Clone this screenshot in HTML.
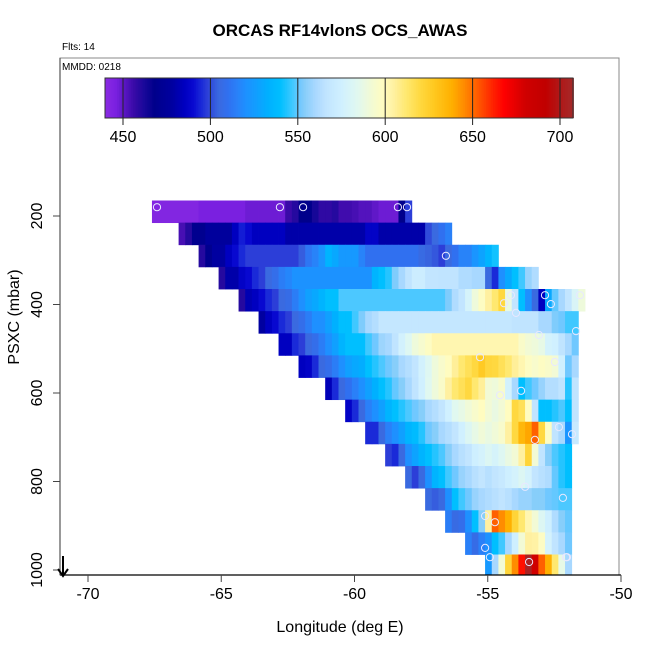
<!DOCTYPE html>
<html><head><meta charset="utf-8">
<style>
html,body{margin:0;padding:0;background:#fff;}
svg{display:block;font-family:"Liberation Sans",Arial,sans-serif;}
</style></head>
<body>
<svg id="chart" width="650" height="650" viewBox="0 0 650 650" xmlns="http://www.w3.org/2000/svg">
<text x="340" y="36" text-anchor="middle" font-size="17" font-weight="bold">ORCAS RF14vlonS OCS_AWAS</text>
<text x="62" y="50" font-size="10">Flts: 14</text>
<text x="62" y="70" font-size="10">MMDD: 0218</text>
<rect x="60" y="58" width="559" height="517" fill="none" stroke="#888" stroke-width="1"/>
<g id="cells"></g>
<g id="marks"></g>
<g id="cbar"></g>
<g id="axes"></g>
<text x="340" y="632" text-anchor="middle" font-size="16">Longitude (deg E)</text>
<text transform="translate(19,317) rotate(-90)" text-anchor="middle" font-size="16">PSXC (mbar)</text>
<g stroke="#000" stroke-width="2" fill="none">
<line x1="63" y1="556" x2="63" y2="575"/><polyline points="58,569 63,576 68,569"/>
</g>
</svg>
<script>
// ---- data ----
const rowPressures = [190,240,290,340,390,440,490,540,590,640,690,740,790,840,890,940,990];
const rowStartLon = [-67.6,-66.6,-65.85,-65.1,-64.35,-63.6,-62.85,-62.1,-61.1,-60.35,-59.6,-58.85,-58.1,-57.35,-56.6,-55.85,-55.1];
const row1 = [443,443,443,443,443,443,443,446,446,446,446,446,446,446,448,448,448,448,448,448,456,460,468,468,463,458,458,460,455,455,454,452,452,450,448,448,448,468,498];
const row2 = [454,460,470,470,476,476,476,476,485,493,490,485,485,485,485,485,480,480,480,480,480,480,480,480,480,480,480,480,487,487,480,480,480,480,480,480,480,500,505,510,515];
const row3 = [460,470,478,478,485,490,495,498,498,498,498,498,498,498,498,503,512,516,522,535,530,524,524,524,516,510,510,510,510,510,510,510,510,506,504,502,498,505,510,516,516,522,528,535,542];
const row4 = [460,480,480,487,490,495,498,505,508,514,517,521,521,521,521,521,521,521,521,521,521,521,521,535,540,544,553,560,566,573,573,567,567,566,566,566,562,562,560,560,505,495,520,530,540,547,557,562];
const row5 = [460,482,485,490,495,498,505,507,514,520,527,530,535,540,540,548,548,548,548,548,548,548,548,548,548,548,548,548,548,548,548,553,562,567,578,590,598,605,612,620,588,567,540,520,505,485,530,550,560,567,580,590];
const row6 = [478,485,490,495,498,505,508,514,520,520,527,533,540,540,547,553,560,563,568,568,568,568,568,568,568,568,568,568,568,568,568,568,568,568,568,568,568,568,566,566,566,566,560,560,553,551,547,547];
const row7 = [485,485,495,498,505,508,514,520,527,535,540,540,540,547,551,558,560,566,576,583,590,594,598,602,602,602,602,602,602,602,602,602,602,602,602,602,596,592,590,587,577,575,566,560,551];
const row8 = [485,487,495,505,508,514,520,527,530,532,540,544,548,551,554,560,563,567,576,583,590,595,599,606,612,616,620,627,621,620,616,612,606,602,598,595,598,596,592,575,551,560];
const row9 = [483,495,505,510,515,520,527,533,540,544,550,554,560,566,575,584,590,596,605,612,616,620,612,606,592,590,595,576,560,540,547,551,557,563,563,566,544,566];
const row10 = [487,495,505,515,520,527,535,540,544,548,551,554,560,563,567,575,584,587,591,595,599,592,588,592,599,620,616,599,566,540,540,544,548,540,566];
const row11 = [495,495,505,515,520,527,535,538,544,551,554,560,563,567,575,582,587,591,588,591,595,605,620,635,640,652,620,598,566,560,522,570];
const row12 = [498,495,505,520,528,535,540,544,548,554,560,564,567,574,577,582,578,583,588,592,605,622,592,566,554,548,544,540];
const row13 = [505,498,505,520,535,540,547,551,557,560,564,567,564,567,570,574,577,582,577,567,564,562,550,544,540];
const row14 = [505,503,505,520,540,547,551,557,560,562,564,566,564,560,557,557,554,554,551,550,548,548];
const row15 = [514,506,508,520,540,554,605,652,645,638,622,612,602,592,582,574,562,554,550];
const row16 = [515,507,515,521,540,547,560,574,592,605,604,598,577,566,560,551];
const row17 = [524,560,592,622,645,665,705,680,652,638,612,587,560];
const rows = [row1,row2,row3,row4,row5,row6,row7,row8,row9,row10,row11,row12,row13,row14,row15,row16,row17];
const markerLon = [-67.41,-62.80,-61.93,-58.37,-58.03,-56.57,-54.13,-54.39,-53.94,-52.85,-52.63,-51.54,-53.08,-51.69,-55.29,-52.48,-54.54,-53.75,-52.33,-51.84,-53.23,-53.60,-52.18,-55.10,-54.73,-55.10,-54.92,-53.45,-52.03,-52.06];
const markerP = [180,180,180,180,180,290,379,397,419,379,399,379,469,460,519,530,605,595,677,693,706,812,837,878,892,950,971,982,971,971];
const colorStops = [440,446,450,456,462,468,478,485,490,495,498,505,510,515,520,527,533,540,547,551,554,560,566,575,584,591,599,605,612,620,628,638,645,652,662,668,680,692,700,708];
const colorHex = ["#8a2be2","#7a20e0","#6018c8","#3a0aa8","#1a089a","#00008b","#0000a0","#0000c0","#0808d0","#1a2ad8","#2c3ed8","#3a6ae0","#3070f0","#2a80f8","#1e90ff","#10a0ff","#00b0ff","#00bfff","#40c8ff","#70c8ff","#87cefa","#a8d8ff","#c0e4ff","#d0f0ff","#e0f8f0","#f0fad8","#fffcc0","#fff0a0","#ffe870","#ffd840","#ffc820","#ffb000","#ff8c00","#ff6000","#ff2000","#ff0000","#d00000","#c00000","#b01818","#a52a2a"];
const xTicks = [-70,-65,-60,-55,-50];
const yTicks = [200,400,600,800,1000];
const cbTicks = [450,500,550,600,650,700];
const cellLon = 0.25, cellP = 50;

// ---- scales ----
const NS = "http://www.w3.org/2000/svg";
const xS = lon => 88 + (lon + 70) * 26.65;
const yS = p => 216 + (p - 200) * 0.4425;
const cbS = v => 123 + (v - 450) * 1.748;
function hex2rgb(h){return [1,3,5].map(i=>parseInt(h.substr(i,2),16));}
function color(v){
  if (v <= colorStops[0]) return colorHex[0];
  for (let i=1;i<colorStops.length;i++){
    if (v <= colorStops[i]){
      const t=(v-colorStops[i-1])/(colorStops[i]-colorStops[i-1]);
      const a=hex2rgb(colorHex[i-1]), b=hex2rgb(colorHex[i]);
      return "rgb("+a.map((c,k)=>Math.round(c+(b[k]-c)*t)).join(",")+")";
    }
  }
  return colorHex[colorHex.length-1];
}
function mk(tag, attrs, parent){const e=document.createElementNS(NS,tag);for(const k in attrs)e.setAttribute(k,attrs[k]);parent.appendChild(e);return e;}

// ---- heatmap ----
const gc = document.getElementById("cells");
rows.forEach((vals, r) => {
  const p = rowPressures[r];
  const y0 = yS(p - cellP/2), y1 = Math.min(yS(p + cellP/2), 575);
  vals.forEach((v, c) => {
    const lon = rowStartLon[r] + c * cellLon;
    const x0 = xS(lon), x1 = xS(lon + cellLon);
    const el = mk("rect", {x:x0.toFixed(2), y:y0.toFixed(2), width:(x1-x0+0.4).toFixed(2), height:(y1-y0+0.4).toFixed(2), fill:color(v)}, gc);
    
    
  });
});

// ---- markers ----
const gm = document.getElementById("marks");
markerLon.forEach((lon, i) => {
  const el = mk("circle", {cx:xS(lon).toFixed(1), cy:yS(markerP[i]).toFixed(1), r:3.6, fill:"none", stroke:"#e8e8ff", "stroke-width":1}, gm);
  
  
});

// ---- colorbar ----
const gb = document.getElementById("cbar");
for (let v = 439.7; v < 707.7; v += 1) {
  const el = mk("rect", {x:cbS(v).toFixed(2), y:78, width:2.2, height:40, fill:color(v+0.5)}, gb);
  
  
}
mk("rect", {x:105, y:78, width:468, height:40, fill:"none", stroke:"#333", "stroke-width":1}, gb);
cbTicks.forEach(t => {
  const x = cbS(t);
  const ln = mk("line", {x1:x, y1:78, x2:x, y2:125, stroke:"#222", "stroke-width":1}, gb);
  
  
  const tx = mk("text", {x:x, y:142, "text-anchor":"middle", "font-size":16}, gb);
  tx.textContent = t;
  
  
});

// ---- axes ----
const ga = document.getElementById("axes");
mk("line", {x1:60, y1:575, x2:621, y2:575, stroke:"#000", "stroke-width":1.2}, ga);
mk("line", {x1:60, y1:58, x2:60, y2:575, stroke:"#555", "stroke-width":1.2}, ga);
xTicks.forEach(t => {
  const x = xS(t);
  const ln = mk("line", {x1:x, y1:575, x2:x, y2:582, stroke:"#444", "stroke-width":1}, ga);
  
  
  const tx = mk("text", {x:x, y:599, "text-anchor":"middle", "font-size":16}, ga);
  tx.textContent = t;
  
  
});
yTicks.forEach(t => {
  const y = yS(t);
  const ln = mk("line", {x1:53, y1:y, x2:60, y2:y, stroke:"#444", "stroke-width":1}, ga);
  
  
  const tx = mk("text", {transform:"translate(42,"+y+") rotate(-90)", "text-anchor":"middle", "font-size":16}, ga);
  tx.textContent = t;
  
  
});
</script>
</body></html>
